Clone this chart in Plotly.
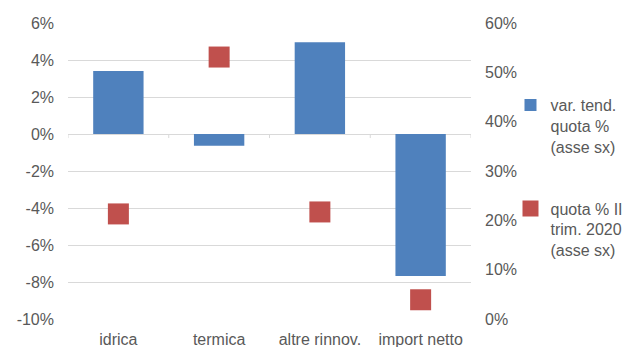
import plotly.graph_objects as go

# categories and values
categories = ["idrica", "termica", "altre rinnov.", "import netto"]
var_tend = [0.034, -0.0063, 0.0496, -0.0768]      # left axis, bars
quota_2020 = [0.213, 0.531, 0.217, 0.039]         # right axis, squares

left_ticks = [-0.10, -0.08, -0.06, -0.04, -0.02, 0.0, 0.02, 0.04, 0.06]
left_labels = ["-10%", "-8%", "-6%", "-4%", "-2%", "0%", "2%", "4%", "6%"]
right_ticks = [0.0, 0.1, 0.2, 0.3, 0.4, 0.5, 0.6]
right_labels = ["0%", "10%", "20%", "30%", "40%", "50%", "60%"]

FONT = "Arial, Liberation Sans, sans-serif"
TXT = "#595959"
GRID = "#d9d9d9"

fig = go.Figure()

fig.add_trace(go.Bar(
    x=categories, y=var_tend, width=0.5,
    name="var. tend.<br>quota %<br>(asse sx)",
    marker=dict(color="#4f81bd", line=dict(width=0)),
    legendgroup="a",
))
fig.add_trace(go.Scatter(
    x=categories, y=quota_2020, yaxis="y2", mode="markers",
    name="quota % II<br>trim. 2020<br>(asse sx)",
    marker=dict(symbol="square", size=21, color="#c0504d"),
    legendgroup="b",
))

# little tick marks on the zero line at the category boundaries
for i in range(len(categories) + 1):
    fig.add_shape(type="line", xref="x", yref="y",
                  x0=i - 0.5, x1=i - 0.5, y0=0, y1=-0.0022,
                  line=dict(color=GRID, width=1), layer="below")

# page body has an 8px margin, so the figure is 8px smaller and shifted
fig.update_layout(
    width=622, height=339,
    margin=dict(l=60, r=159, t=15, b=28, autoexpand=False),
    paper_bgcolor="white", plot_bgcolor="white",
    font=dict(family=FONT, size=16, color=TXT),
    showlegend=True,
    legend=dict(x=1.098, y=0.78, xanchor="left", yanchor="top",
                valign="top", tracegroupgap=38, itemwidth=30,
                bgcolor="rgba(0,0,0,0)",
                font=dict(size=16, color=TXT)),
    xaxis=dict(range=[-0.5, 3.5], showgrid=False, showline=False,
               zeroline=False, ticks="", ticklabelstandoff=9),
    yaxis=dict(range=[-0.10, 0.06], tickvals=left_ticks, ticktext=left_labels,
               showgrid=True, gridcolor=GRID, gridwidth=1,
               zeroline=True, zerolinecolor=GRID, zerolinewidth=1,
               showline=False, ticks="", ticklabelstandoff=13),
    yaxis2=dict(range=[0, 0.6], tickvals=right_ticks, ticktext=right_labels,
                overlaying="y", side="right", showgrid=False, zeroline=False,
                showline=False, ticks="", ticklabelstandoff=13),
)

fig.write_html("out.html")
